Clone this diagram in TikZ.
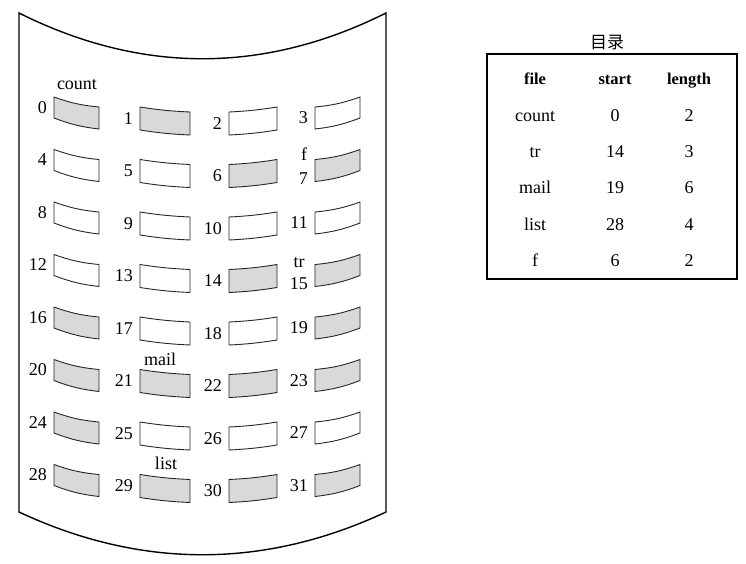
\documentclass[tikz,border=0pt]{standalone}
\usepackage{fontspec}
\setmainfont{Liberation Serif}
\newfontfamily\cjk{Noto Sans CJK SC}
\begin{document}
\begin{tikzpicture}[x=1pt,y=-1pt,
  sheet/.style={draw=black, line width=1.4pt},
  blk/.style={draw=black!85, line width=0.9pt},
  num/.style={font=\fontsize{18}{18}\selectfont, inner sep=0pt, anchor=east},
  flabel/.style={font=\fontsize{18}{18}\selectfont, inner sep=0pt, anchor=base},
  cell/.style={font=\fontsize{18}{18}\selectfont, inner sep=0pt, anchor=base},
  hcell/.style={font=\bfseries\fontsize{16.5}{16.5}\selectfont, inner sep=0pt, anchor=base},
  dirbox/.style={draw=black, line width=1.8pt}]
\useasboundingbox (0,0) rectangle (746,563);

% curved sheet
\draw[sheet] (19,13) -- (19,512)
  .. controls (141,569) and (264,569) .. (386,512)
  -- (386,13)
  .. controls (264,74) and (141,74) .. cycle;

% blocks
\foreach \r in {0,...,7}{
  \foreach \c/\xa/\xb/\ya/\yb/\yc/\yd/\bd in
     {0/54/99/0/10/32/21/7, 1/140/190/10/15/38/33/3,
      2/229/277/15/10/33/38/3, 3/315/360/10/0/21/32/7}{
    \pgfmathtruncatemacro\n{4*\r+\c}
    \pgfmathsetmacro\T{97+52.5*\r}
    \pgfmathtruncatemacro\sh{{1,1,0,0,0,0,1,1,0,0,0,0,0,0,1,1,1,0,0,1,1,1,1,1,1,0,0,0,1,1,1,1}[\n]}
    \ifnum\sh=1 \def\fc{gray!30}\else\def\fc{white}\fi
    \draw[blk, fill=\fc] (\xa,\T+\ya) to[bend right=\bd] (\xb,\T+\yb)
       -- (\xb,\T+\yc) to[bend left=\bd] (\xa,\T+\yd) -- cycle;
    \pgfmathsetmacro\ny{\T+(\ya+\yd)/2+8*((\n==7)||(\n==15))}
    \node[num] (n\n) at (\xa-7,\ny) {\n};
  }
}

% file labels on the sheet
\node[flabel] (lcount) at (77,89) {count};
\node[flabel] (lf) at (304,160) {f};
\node[flabel] (ltr) at (299,267) {tr};
\node[flabel] (lmail) at (160,365) {mail};
\node[flabel] (llist) at (166,469) {list};

% directory
\node[font=\cjk\fontsize{17}{17}\selectfont, inner sep=0pt] (title) at (607,42) {目录};
\draw[dirbox] (487,54) rectangle (737,279);
\node[hcell] (hfile) at (535,84) {file};
\node[hcell] (hstart) at (615,84) {start};
\node[hcell] (hlength) at (689,84) {length};
\foreach \k/\fn/\st/\ln in {0/count/0/2, 1/tr/14/3, 2/mail/19/6, 3/list/28/4, 4/f/6/2}{
  \pgfmathsetmacro\by{121.5+36.2*\k}
  \node[cell] (f\k) at (535,\by) {\fn};
  \node[cell] (s\k) at (615,\by) {\st};
  \node[cell] (l\k) at (689,\by) {\ln};
}
\end{tikzpicture}
\end{document}
